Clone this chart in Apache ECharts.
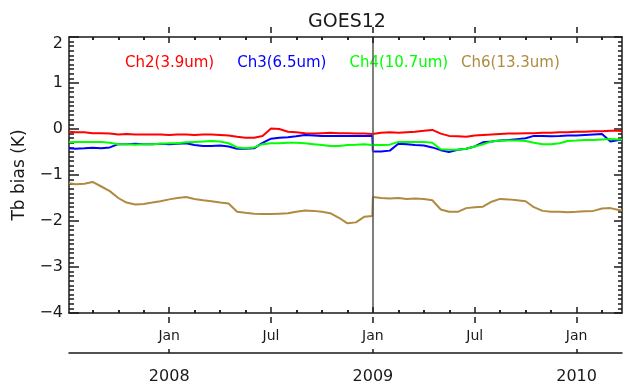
<!DOCTYPE html>
<html>
<head>
<meta charset="utf-8">
<script src="https://cdn.jsdelivr.net/npm/echarts@6/dist/echarts.min.js"></script>
<style>
  html, body { margin: 0; padding: 0; background: #fff; }
  #chart { width: 624px; height: 385px; }
</style>
</head>
<body>
<div id="chart"></div>
<script>
// sample dates (roughly twice a month), plus one extra point before the Jan 2009 jump
const dates = [
  '2007-07-04', '2007-07-16', '2007-08-01', '2007-08-16', '2007-09-01', '2007-09-16',
  '2007-10-01', '2007-10-16', '2007-11-01', '2007-11-16', '2007-12-01', '2007-12-16',
  '2008-01-01', '2008-01-16', '2008-02-01', '2008-02-15', '2008-03-01', '2008-03-16',
  '2008-04-01', '2008-04-16', '2008-05-01', '2008-05-16', '2008-06-01', '2008-06-16',
  '2008-07-01', '2008-07-16', '2008-08-01', '2008-08-16', '2008-09-01', '2008-09-16',
  '2008-10-01', '2008-10-16', '2008-11-01', '2008-11-16', '2008-12-01', '2008-12-16',
  '2008-12-31',
  '2009-01-01', '2009-01-16', '2009-02-01', '2009-02-15', '2009-03-01', '2009-03-16',
  '2009-04-01', '2009-04-16', '2009-05-01', '2009-05-16', '2009-06-01', '2009-06-16',
  '2009-07-01', '2009-07-16', '2009-08-01', '2009-08-16', '2009-09-01', '2009-09-16',
  '2009-10-01', '2009-10-16', '2009-11-01', '2009-11-16', '2009-12-01', '2009-12-16',
  '2010-01-01', '2010-01-16', '2010-02-01', '2010-02-15', '2010-03-01', '2010-03-16',
  '2010-03-22'
]

const ch2 = [
  -0.06, -0.07, -0.07, -0.09, -0.09, -0.10, -0.12, -0.11, -0.12, -0.12, -0.12, -0.12,
  -0.13, -0.12, -0.12, -0.13, -0.12, -0.12, -0.13, -0.14, -0.17, -0.19, -0.19, -0.15,
  0.01, 0.00, -0.06, -0.07, -0.09, -0.10, -0.09, -0.08, -0.09, -0.09, -0.10, -0.10,
  -0.11,
  -0.09, -0.08, -0.07, -0.08, -0.07, -0.06, -0.04, -0.02, -0.10, -0.15, -0.16, -0.17,
  -0.14, -0.13, -0.12, -0.11, -0.10, -0.10, -0.09, -0.09, -0.08, -0.08, -0.07, -0.07,
  -0.06, -0.06, -0.05, -0.05, -0.04, -0.04, -0.05
]

const ch3 = [
  -0.42, -0.43, -0.42, -0.41, -0.42, -0.40, -0.33, -0.33, -0.32, -0.33, -0.33, -0.32,
  -0.33, -0.32, -0.31, -0.35, -0.37, -0.37, -0.36, -0.38, -0.43, -0.43, -0.42, -0.30,
  -0.21, -0.19, -0.18, -0.16, -0.13, -0.14, -0.15, -0.15, -0.15, -0.15, -0.15, -0.15,
  -0.15,
  -0.49, -0.49, -0.47, -0.32, -0.33, -0.35, -0.36, -0.40, -0.46, -0.50, -0.45, -0.43,
  -0.38, -0.29, -0.27, -0.25, -0.24, -0.22, -0.20, -0.15, -0.15, -0.16, -0.15, -0.14,
  -0.14, -0.13, -0.12, -0.11, -0.27, -0.24, -0.24
]

const ch4 = [
  -0.29, -0.28, -0.28, -0.28, -0.28, -0.30, -0.33, -0.33, -0.34, -0.33, -0.33, -0.32,
  -0.31, -0.31, -0.29, -0.28, -0.27, -0.26, -0.27, -0.31, -0.40, -0.42, -0.40, -0.33,
  -0.31, -0.31, -0.30, -0.30, -0.31, -0.33, -0.35, -0.37, -0.37, -0.35, -0.34, -0.33,
  -0.35,
  -0.35, -0.35, -0.34, -0.28, -0.28, -0.28, -0.28, -0.30, -0.44, -0.45, -0.45, -0.43,
  -0.38, -0.33, -0.27, -0.25, -0.25, -0.25, -0.26, -0.30, -0.33, -0.33, -0.31, -0.26,
  -0.25, -0.24, -0.24, -0.23, -0.22, -0.23, -0.23
]

const ch6 = [
  -1.18, -1.20, -1.19, -1.15, -1.25, -1.35, -1.50, -1.60, -1.64, -1.63, -1.60, -1.57,
  -1.53, -1.50, -1.48, -1.52, -1.55, -1.57, -1.60, -1.62, -1.80, -1.82, -1.84, -1.85,
  -1.85, -1.84, -1.83, -1.80, -1.77, -1.78, -1.80, -1.83, -1.93, -2.05, -2.03, -1.91,
  -1.89,
  -1.48, -1.50, -1.51, -1.50, -1.52, -1.51, -1.52, -1.55, -1.75, -1.80, -1.80, -1.72,
  -1.70, -1.69, -1.58, -1.52, -1.53, -1.55, -1.57, -1.70, -1.78, -1.80, -1.80, -1.81,
  -1.80, -1.79, -1.78, -1.73, -1.72, -1.76, -1.77
]

const seriesNames = ['Ch2(3.9um)', 'Ch3(6.5um)', 'Ch4(10.7um)', 'Ch6(13.3um)']
const seriesColors = ['#ff0000', '#0000ff', '#00ff00', '#b08a40']

// x is measured in months from Jan 2008; ticks every 1.5 months, labels at Jan/Jul
const monthTicks = [0, 6, 12, 18, 24]
const minorTicks = [-4.5, -3, -1.5, 1.5, 3, 4.5, 7.5, 9, 10.5, 13.5, 15, 16.5, 19.5, 21, 22.5, 25.5]
const yearTicks = [0, 12, 24]
const labelRange = [0, 24]
const monthNames = ['Jan', 'Jul']
const yearNames = ['2008', '2009', '2010']

const toMonth = (s) => {
  const [y, mo, d] = s.split('-').map(Number)
  const dim = new Date(y, mo, 0).getDate()
  return (y - 2008) * 12 + (mo - 1) + (d - 1) / dim
}

const xMin = toMonth(dates[0])
const xMax = toMonth(dates[dates.length - 1])
const yMin = -4
const yMax = 2
const font = 'DejaVu Sans'
const ink = '#1a1a1a'

const W = 624
const H = 385
const plot = { left: 69, right: 2, top: 37, bottom: 72 }
const pxPerMonth = (W - plot.left - plot.right) / (xMax - xMin)
const pxPerUnit = (H - plot.top - plot.bottom) / (yMax - yMin)
// helper grid on the same time scale over Jan 2008 .. Jan 2010, used only for labels
const subGrid = ([a, b], bottom) => ({
  left: plot.left + (a - xMin) * pxPerMonth,
  right: plot.right + (xMax - b) * pxPerMonth,
  top: plot.top,
  bottom,
})
// helper grid 10px taller than needed, with a 1px-per-unit y axis whose zero sits on a frame edge
const edgeGrid = (top, bottom) => ({ left: plot.left, right: plot.right, top, bottom })
const edgeY = (gridIndex, min, max) => ({
  type: 'value',
  gridIndex,
  min,
  max,
  splitLine: { show: false },
  axisLine: { show: false },
  axisTick: { show: false },
  axisLabel: { show: false },
})

const pairs = (vals) => dates.map((d, i) => [toMonth(d), vals[i]])

const frameLine = { show: true, onZero: false, lineStyle: { color: ink, width: 1.5 } }
const ticks = (length) => ({ show: true, inside: true, length, lineStyle: { color: ink, width: 1.5 } })
const tickLineStyle = { color: ink, width: 1.5, type: 'solid', opacity: 1 }

// tick-only x axis over the full time range, sitting on the zero of its helper y axis
const tickAxis = (gridIndex, position, values, length) => ({
  type: 'value',
  gridIndex,
  position,
  min: xMin,
  max: xMax,
  splitLine: { show: false },
  axisLine: { show: false },
  axisTick: { ...ticks(length), customValues: values },
  axisLabel: { show: false },
})

// the same inward ticks as mark lines on the main scale
const frameTickLines = []
;[...minorTicks, ...monthTicks].forEach((v) => {
  const h = (monthTicks.includes(v) ? 6 : 3) / pxPerUnit
  frameTickLines.push([{ coord: [v, yMin], lineStyle: tickLineStyle }, { coord: [v, yMin + h] }])
  frameTickLines.push([{ coord: [v, yMax], lineStyle: tickLineStyle }, { coord: [v, yMax - h] }])
})

const labelAxis = (gridIndex, interval, label) => ({
  type: 'value',
  gridIndex,
  position: 'bottom',
  min: labelRange[0],
  max: labelRange[1],
  interval,
  splitLine: { show: false },
  axisLine: { show: false, onZero: false },
  axisTick: { show: false },
  axisLabel: { show: true, color: ink, ...label },
})

const legendText = (names) => ({
  top: 51,
  itemGap: 17,
  itemWidth: 0,
  itemHeight: 0,
  selectedMode: false,
  textStyle: { fontFamily: font, fontSize: 15 },
  data: names.map((n) => ({ name: n, textStyle: { color: seriesColors[seriesNames.indexOf(n)] } })),
})

const markerBase = {
  silent: true,
  symbol: 'none',
  label: { show: false },
  emphasis: { disabled: true },
}

const chart = echarts.init(document.getElementById('chart'))
chart.setOption({
  animation: false,
  backgroundColor: '#fff',
  textStyle: { fontFamily: font },
  title: {
    text: 'GOES12',
    left: 342,
    textAlign: 'center',
    top: 8,
    textStyle: { fontFamily: font, fontSize: 19, fontWeight: 'normal', color: ink },
  },
  legend: [
    { ...legendText(seriesNames.slice(0, 3)), left: 114 },
    { ...legendText(seriesNames.slice(3)), left: 450 },
  ],
  grid: [
    plot,
    subGrid(labelRange, plot.bottom),
    subGrid(labelRange, 32),
    edgeGrid(37, 62),   // zero at y = 313 (bottom frame)
    edgeGrid(27, 72),   // zero at y = 37 (top frame)
    edgeGrid(37, 22),   // zero at y = 353 (year line)
  ],
  xAxis: [
    { type: 'value', gridIndex: 0, position: 'bottom', min: xMin, max: xMax, splitLine: { show: false },
      axisLine: frameLine, axisTick: { show: false }, axisLabel: { show: false } },
    { type: 'value', gridIndex: 0, position: 'top', min: xMin, max: xMax, splitLine: { show: false },
      axisLine: frameLine, axisTick: { show: false }, axisLabel: { show: false } },
    // lower line carrying the years
    { type: 'value', gridIndex: 0, position: 'bottom', offset: 40, min: xMin, max: xMax, splitLine: { show: false },
      axisLine: frameLine, axisTick: { show: false }, axisLabel: { show: false } },
    labelAxis(1, 6, { margin: 16, fontSize: 14, formatter: (v) => monthNames[Math.round(v / 6) % 2] }),
    labelAxis(2, 12, { margin: 17, fontSize: 16, formatter: (v) => yearNames[Math.round(v / 12)] }),
    tickAxis(3, 'bottom', minorTicks, 3),
    tickAxis(3, 'bottom', monthTicks, 6),
    tickAxis(4, 'top', minorTicks, 3),
    tickAxis(4, 'top', monthTicks, 6),
    tickAxis(5, 'bottom', yearTicks, 4),
  ],
  yAxis: [
    {
      type: 'value',
      gridIndex: 0,
      position: 'left',
      min: yMin,
      max: yMax,
      interval: 1,
      name: 'Tb bias (K)',
      nameLocation: 'middle',
      nameGap: 40,
      nameRotate: 90,
      nameTextStyle: { fontFamily: font, fontSize: 17, color: ink },
      splitLine: { show: false },
      axisLine: frameLine,
      axisTick: ticks(10),
      minorTick: { show: true, splitNumber: 10, length: 5, lineStyle: { color: ink, width: 1.5 } },
      axisLabel: {
        margin: 6,
        fontSize: 16,
        color: ink,
        formatter: (v) => (v === 2 ? '{top|2}' : v < 0 ? '\u2212' + Math.abs(v) : String(v)),
        rich: { top: { fontSize: 16, color: ink, padding: [14, 0, 0, 0] } },
      },
    },
    {
      type: 'value',
      gridIndex: 0,
      position: 'right',
      min: yMin,
      max: yMax,
      interval: 1,
      splitLine: { show: false },
      axisLine: frameLine,
      axisTick: ticks(8),
      minorTick: { show: true, splitNumber: 10, length: 4, lineStyle: { color: ink, width: 1.5 } },
      axisLabel: { show: false },
    },
    { type: 'value', gridIndex: 1, min: 0, max: 1, show: false },
    { type: 'value', gridIndex: 2, min: 0, max: 1, show: false },
    edgeY(3, -10, 276),
    edgeY(4, -276, 10),
    edgeY(5, -10, 316),
  ],
  series: [ch2, ch3, ch4, ch6].map((vals, i) => ({
    name: seriesNames[i],
    type: 'line',
    xAxisIndex: 0,
    yAxisIndex: 0,
    data: pairs(vals),
    showSymbol: false,
    color: seriesColors[i],
    lineStyle: { width: 2, color: seriesColors[i] },
    markLine: i === 0 ? {
      ...markerBase,
      lineStyle: { color: '#555', width: 1.5, type: 'solid' },
      data: [{ xAxis: 12 }],
    } : i === 3 ? {
      ...markerBase,
      lineStyle: tickLineStyle,
      data: frameTickLines,
    } : undefined,
  })),
})
</script>
</body>
</html>
